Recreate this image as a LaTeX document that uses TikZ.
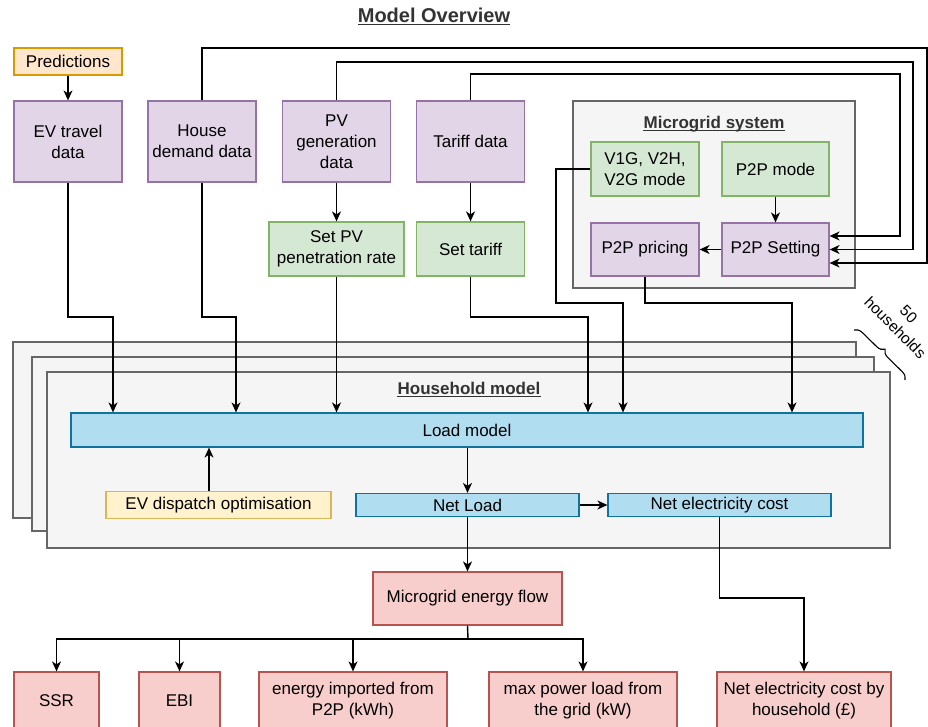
\documentclass[tikz,border=0pt]{standalone}
\usepackage{fontspec}
\setmainfont{Liberation Sans}
\usetikzlibrary{arrows.meta,decorations.pathreplacing,calc}
\definecolor{purF}{HTML}{E1D5E7}\definecolor{purD}{HTML}{9673A6}
\definecolor{grnF}{HTML}{D5E8D4}\definecolor{grnD}{HTML}{82B366}
\definecolor{orgF}{HTML}{FFE6CC}\definecolor{orgD}{HTML}{D79B00}
\definecolor{yelF}{HTML}{FFF2CC}\definecolor{yelD}{HTML}{D6B656}
\definecolor{bluF}{HTML}{B1DDF0}\definecolor{bluD}{HTML}{10739E}
\definecolor{redF}{HTML}{F8CECC}\definecolor{redD}{HTML}{B85450}
\definecolor{conF}{HTML}{F5F5F5}\definecolor{conD}{HTML}{666666}
\definecolor{ttlC}{HTML}{333333}
\begin{document}
\begin{tikzpicture}[x=1pt,y=-1pt,
  font=\fontsize{17}{21}\selectfont,
  box/.style={draw, line width=1.2pt, inner sep=0pt, align=center},
  purbox/.style={box, fill=purF, draw=purD},
  grnbox/.style={box, fill=grnF, draw=grnD},
  orgbox/.style={box, fill=orgF, draw=orgD},
  yelbox/.style={box, fill=yelF, draw=yelD},
  blubox/.style={box, fill=bluF, draw=bluD},
  redbox/.style={box, fill=redF, draw=redD},
  cont/.style={draw=conD, fill=conF, line width=2.6pt},
  ttl/.style={inner sep=0pt, text=ttlC, font=\fontsize{17}{21}\selectfont\bfseries},
  ul/.style={line width=1.3pt, ttlC},
  arr/.style={line width=1.4pt, -{Stealth[length=10pt,width=9pt,inset=3pt]}},
  ln/.style={line width=1.4pt}
]
\useasboundingbox (0,0) rectangle (928,726);

% containers
\draw[cont] (13,342) rectangle (856,518);
\draw[cont] (32,357) rectangle (874,531);
\draw[cont] (47,372) rectangle (890,548);
\draw[cont] (573,101) rectangle (855,288);

% titles
\node[ttl, anchor=base, font=\fontsize{20}{24}\selectfont\bfseries] (title) at (434,22) {Model Overview};
\draw[ul] ([yshift=-2.5pt]title.base west) -- ([yshift=-2.5pt]title.base east);
\node[ttl, anchor=base] (mgt) at (714,128) {Microgrid system};
\draw[ul] ([yshift=-2.5pt]mgt.base west) -- ([yshift=-2.5pt]mgt.base east);
\node[ttl, anchor=base] (hht) at (469,394) {Household model};
\draw[ul] ([yshift=-2.5pt]hht.base west) -- ([yshift=-2.5pt]hht.base east);

% top row
\node[orgbox, minimum width=108pt, minimum height=27pt] (pred) at (68,61.5) {Predictions};
\node[purbox, minimum width=108pt, minimum height=81pt] (ev) at (68,141.5) {EV travel\\data};
\node[purbox, minimum width=108pt, minimum height=81pt] (house) at (202,141.5) {House\\demand data};
\node[purbox, minimum width=108pt, minimum height=81pt] (pv) at (336.5,141.5) {PV\\generation\\data};
\node[purbox, minimum width=108pt, minimum height=81pt] (tariff) at (470.5,141.5) {Tariff data};
\node[grnbox, minimum width=135pt, minimum height=54pt] (setpv) at (336.5,249) {Set PV\\penetration rate};
\node[grnbox, minimum width=108pt, minimum height=54pt] (settar) at (470.5,249) {Set tariff};

% microgrid
\node[grnbox, minimum width=108pt, minimum height=54pt] (v1g) at (645,169) {V1G, V2H,\\V2G mode};
\node[grnbox, minimum width=107pt, minimum height=54pt] (pmode) at (775.5,169) {P2P mode};
\node[purbox, minimum width=108pt, minimum height=53pt] (pricing) at (645,249.5) {P2P pricing};
\node[purbox, minimum width=107pt, minimum height=53pt] (setting) at (775.5,249.5) {P2P Setting};

% household model
\node[blubox, minimum width=792pt, minimum height=34pt] (load) at (467,430) {Load model};
\node[yelbox, minimum width=225pt, minimum height=27pt] (evd) at (218.5,505) {EV dispatch optimisation};
\node[blubox, minimum width=223pt, minimum height=23pt] (netload) at (467.5,505) {Net Load};
\node[blubox, minimum width=223pt, minimum height=23pt] (netcost) at (719.5,505) {Net electricity cost};

% outputs
\node[redbox, minimum width=189pt, minimum height=53pt] (mef) at (467.5,598.5) {Microgrid energy flow};
\node[redbox, minimum width=85pt, minimum height=57pt] (ssr) at (56.5,700.5) {SSR};
\node[redbox, minimum width=81pt, minimum height=57pt] (ebi) at (179.5,700.5) {EBI};
\node[redbox, minimum width=188pt, minimum height=57pt] (eimp) at (353,700.5) {energy imported from\\P2P (kWh)};
\node[redbox, minimum width=188pt, minimum height=57pt] (maxp) at (583,700.5) {max power load from\\the grid (kW)};
\node[redbox, minimum width=174pt, minimum height=57pt] (nch) at (804,700.5) {Net electricity cost by\\household (£)};

% brace
\draw[line width=1.1pt, decorate, decoration={brace, amplitude=8pt}] (854,330) -- (905,380);
\node[rotate=-45, align=center, inner sep=0pt, font=\fontsize{15.5}{19}\selectfont] (hh) at (902,321) {50\\households};

% helper coordinates
\coordinate (cEV) at (113,317);
\coordinate (cH) at (236,317);
\coordinate (cT) at (588,317);
\coordinate (cV1) at (556,303);
\coordinate (cV2) at (623,303);
\coordinate (cP) at (792,303);
\coordinate (rH) at (927,48);
\coordinate (rPV) at (913,62);
\coordinate (rT) at (900,74);
\coordinate (evdTop) at ([xshift=-9.5pt]evd.north);
\coordinate (cNC) at (804,598);
\coordinate (bus) at (468,639);

% connectors
\draw[arr] (pred) -- (ev);
\draw[arr] (pv) -- (setpv);
\draw[arr] (tariff) -- (settar);
\draw[arr] (pmode) -- (setting);
\draw[arr] (setting) -- (pricing);
\draw[arr] (ev.south) |- (cEV) -- (cEV |- load.north);
\draw[arr] (house.south) |- (cH) -- (cH |- load.north);
\draw[arr] (setpv.south) -- (setpv.south |- load.north);
\draw[arr] (settar.south) |- (cT) -- (cT |- load.north);
\draw[arr] (v1g.west) -| (cV1) -- (cV2) -- (cV2 |- load.north);
\draw[arr] (pricing.south) |- (cP) -- (cP |- load.north);
\draw[arr] (house.north) |- (rH) |- ([yshift=-13.5pt]setting.east);
\draw[arr] (pv.north) |- (rPV) |- (setting.east);
\draw[arr] (tariff.north) |- (rT) |- ([yshift=13.5pt]setting.east);
\draw[arr] (load.south -| netload.north) -- (netload.north);
\draw[arr] (evdTop) -- (evdTop |- load.south);
\draw[arr] (netload) -- (netcost);
\draw[arr] (netload) -- (mef);
\draw[arr] (netcost.south) |- (cNC) -- (cNC |- nch.north);
\draw[ln] (mef.south) -- (bus);
\draw[arr] (bus) -| (ssr.north);
\draw[arr] (bus) -| (ebi.north);
\draw[arr] (bus) -| (eimp.north);
\draw[arr] (bus) -| (maxp.north);
\end{tikzpicture}
\end{document}
